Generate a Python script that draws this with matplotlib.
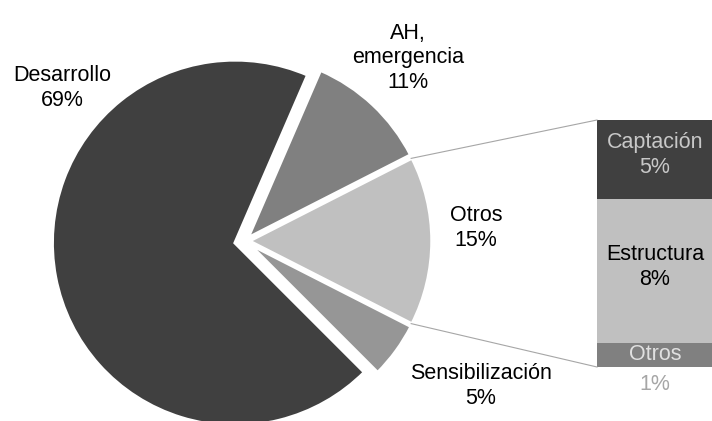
import numpy as np
import matplotlib
matplotlib.use('Agg')
import matplotlib.pyplot as plt

plt.rcParams['font.family'] = ['Liberation Sans', 'DejaVu Sans']

# main pie (drawn counter-clockwise starting at the "Otros" slice)
main_labels = ['Otros', 'AH, emergencia', 'Desarrollo', 'Sensibilización']
main_values = [15, 11, 69, 5]
main_colors = ['#c0c0c0', '#808080', '#404040', '#969696']
main_explode = [4, 4, 10, 4]  # pixels

# breakdown of "Otros" (bottom to top)
sub_labels = ['Otros', 'Estructura', 'Captación']
sub_values = [1.4, 8.4, 4.6]
sub_colors = ['#808080', '#c0c0c0', '#404040']

W, H = 712, 421
fig = plt.figure(figsize=(W / 100, H / 100), dpi=100)
ax = fig.add_axes([0, 0, 1, 1])

# data coords == pixels (y up)
center = (245, H - 241)
radius = 183
start = -main_values[0] / sum(main_values) * 360 / 2

wedges, _ = ax.pie(main_values, colors=main_colors, startangle=start,
                   center=center, radius=radius, frame=True,
                   explode=main_explode,
                   wedgeprops=dict(edgecolor='white', linewidth=2.5))
ax.set_xlim(0, W)
ax.set_ylim(0, H)
ax.set_aspect('equal')
ax.axis('off')

# bar of the "Otros" breakdown
bar_x, bar_w = 655, 116
bar_top, bar_bottom = H - 120, H - 367
scale = (bar_top - bar_bottom) / sum(sub_values)
bottom = bar_bottom
for v, c in zip(sub_values, sub_colors):
    ax.bar(bar_x, v * scale, width=bar_w, bottom=bottom, color=c, linewidth=0)
    bottom += v * scale

# connector lines from the Otros wedge to the bar
otros = wedges[0]
cx, cy = otros.center
r = otros.r - 1
for ang, by in [(otros.theta2, bar_top), (otros.theta1, bar_bottom)]:
    px = cx + r * np.cos(np.radians(ang))
    py = cy + r * np.sin(np.radians(ang))
    ax.plot([px, bar_x - bar_w / 2], [py, by], color='#a6a6a6', lw=0.8)

fs = 15.5
ax.text(62, H - 88, 'Desarrollo\n69%', ha='center', va='center', fontsize=fs,
        linespacing=1.25)
ax.text(408, H - 58, 'AH,\nemergencia\n11%', ha='center', va='center', fontsize=fs,
        linespacing=1.25)
ax.text(476, H - 228, 'Otros\n15%', ha='center', va='center', fontsize=fs,
        linespacing=1.25)
ax.text(481, H - 386, 'Sensibilización\n5%', ha='center', va='center', fontsize=fs,
        linespacing=1.25)

ax.text(bar_x, H - 155, 'Captación\n5%', ha='center', va='center', fontsize=fs,
        color='#c8c8c8', linespacing=1.25)
ax.text(bar_x, H - 267, 'Estructura\n8%', ha='center', va='center', fontsize=fs,
        color='black', linespacing=1.25)
ax.text(bar_x, H - 354, 'Otros', ha='center', va='center', fontsize=fs,
        color='#e0e0e0')
ax.text(bar_x, H - 385, '1%', ha='center', va='center', fontsize=fs,
        color='#a6a6a6')

fig.savefig('out.png', dpi=100)
